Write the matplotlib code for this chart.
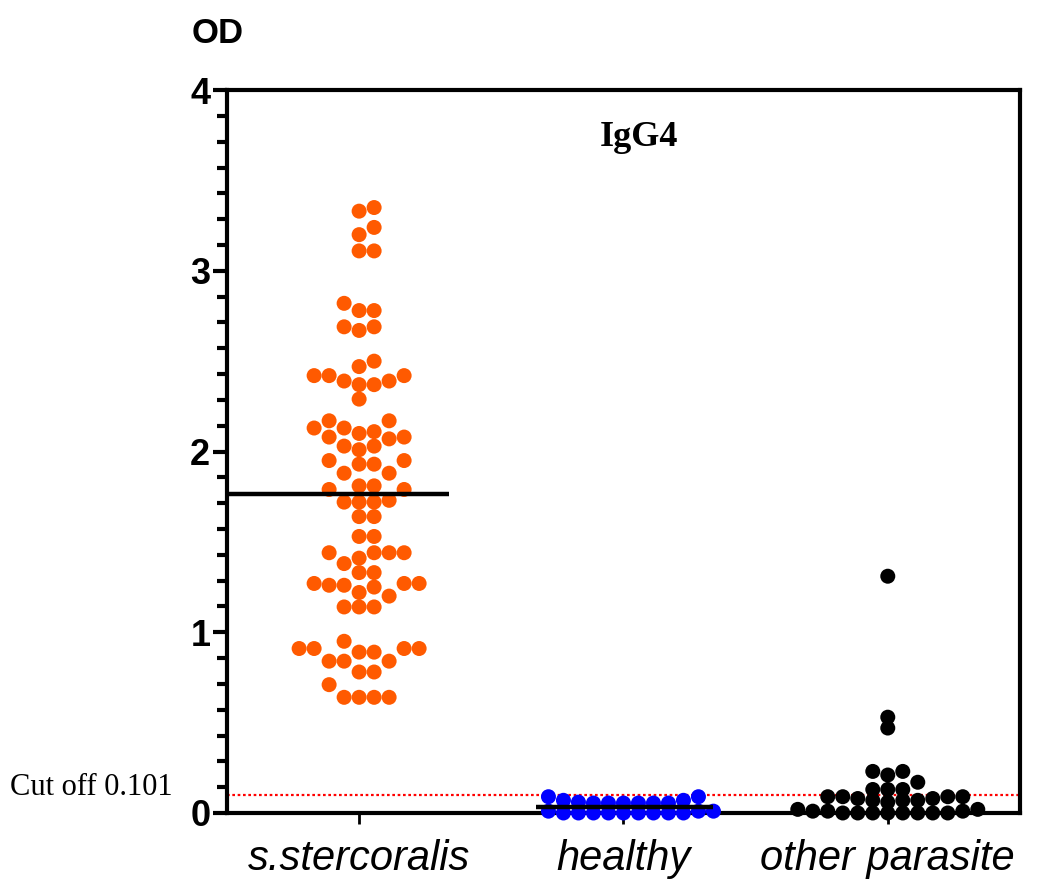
import numpy as np
import matplotlib
matplotlib.use("Agg")
import matplotlib.pyplot as plt
import matplotlib.transforms as mtransforms
from matplotlib.ticker import MultipleLocator, AutoMinorLocator

# ---- data -------------------------------------------------------------
groups = ["s.stercoralis", "healthy", "other parasite"]
group_colors = ["#FF5A00", "#0000FF", "#000000"]

strongyloides_od = [
    3.35, 3.33, 3.24, 3.20, 3.11, 3.11,
    2.82, 2.78, 2.78, 2.69, 2.67, 2.69,
    2.50, 2.47, 2.42, 2.42, 2.42, 2.39, 2.39, 2.37, 2.37, 2.29,
    2.17, 2.17, 2.13, 2.13, 2.11, 2.10, 2.08, 2.08, 2.07,
    2.03, 2.03, 2.01, 1.95, 1.95, 1.93, 1.93, 1.88, 1.88,
    1.81, 1.81, 1.79, 1.79, 1.73, 1.72, 1.72, 1.72, 1.64, 1.64,
    1.53, 1.53, 1.44, 1.44, 1.44, 1.44, 1.41, 1.38, 1.33, 1.33,
    1.27, 1.27, 1.27, 1.26, 1.26, 1.25, 1.22, 1.20, 1.14, 1.14, 1.14,
    0.95, 0.91, 0.91, 0.91, 0.91, 0.89, 0.89, 0.84, 0.84, 0.84,
    0.78, 0.78, 0.71, 0.64, 0.64, 0.64, 0.64,
]
healthy_od = [
    0.00, 0.00, 0.00, 0.01, 0.00, 0.01, 0.00, 0.00, 0.01, 0.00, 0.00, 0.00,
    0.07, 0.055, 0.055, 0.055, 0.09, 0.06, 0.07, 0.09, 0.055, 0.055, 0.055,
]
other_parasite_od = [
    1.31, 0.53, 0.47, 0.23, 0.23, 0.21, 0.17, 0.13, 0.13, 0.13,
    0.09, 0.09, 0.09, 0.09, 0.08, 0.08, 0.07, 0.07, 0.07, 0.06,
    0.02, 0.02, 0.01, 0.01, 0.01, 0.00, 0.00, 0.00, 0.00, 0.00,
    0.00, 0.00, 0.00,
]

CUTOFF = 0.101
panel_title = "IgG4"
y_title = "OD"

# ---- figure -----------------------------------------------------------
fig = plt.figure(figsize=(10.43, 8.83), dpi=100)
ax = fig.add_axes([0.2176, 0.0793, 0.7603, 0.8187])
ax.set_xlim(0.5, 3.5)
ax.set_ylim(0, 4)

SANS = ["Liberation Sans", "DejaVu Sans"]
SERIF = ["Liberation Serif", "DejaVu Serif"]

MARKER_PX = 15.0
# vertical spacing (in marker diameters) two dots need to share a column
column_gap = [0.9, 0.6, 0.6]


def column_swarm(values, centre, gap_frac):
    """Place each dot in the nearest column that has no close neighbour."""
    fig.canvas.draw()
    bbox = ax.get_window_extent()
    px_per_x = bbox.width / (ax.get_xlim()[1] - ax.get_xlim()[0])
    px_per_y = bbox.height / (ax.get_ylim()[1] - ax.get_ylim()[0])
    step = MARKER_PX / px_per_x
    min_gap = gap_frac * MARKER_PX / px_per_y
    order = np.argsort(values, kind="stable")
    tries = [0]
    for n in range(1, 40):
        tries += [n, -n]
    cols = {}
    xs = np.zeros(len(values))
    for i in order:
        v = values[i]
        for k in tries:
            if all(abs(v - u) >= min_gap for u in cols.get(k, [])):
                break
        cols.setdefault(k, []).append(v)
        xs[i] = centre + k * step
    return xs


datasets = [strongyloides_od, healthy_od, other_parasite_od]
for pos, (vals, col, gap) in enumerate(zip(datasets, group_colors, column_gap), start=1):
    vals = np.asarray(vals, dtype=float)
    xs = column_swarm(vals, pos, gap)
    ax.scatter(xs, vals, s=(MARKER_PX * 0.72) ** 2, color=col,
               edgecolors="none", zorder=3, clip_on=False)

# group mean bars
ax.hlines(np.mean(strongyloides_od), 0.5, 1.34, color="black", lw=3.2, zorder=4)
ax.hlines(np.mean(healthy_od), 2 - 0.33, 2 + 0.34, color="black", lw=3.2, zorder=4)

# cut-off line and its label
ax.axhline(CUTOFF, color="red", ls=(0, (1.2, 1.2)), lw=1.6, zorder=2)
blend = mtransforms.blended_transform_factory(ax.transAxes, ax.transData)
ax.text(-0.274, CUTOFF, f"Cut off {CUTOFF}", transform=blend, ha="left",
        va="baseline", fontsize=22, family=SERIF, color="black")

ax.text(0.52, 3.74, panel_title, ha="center", va="center", fontsize=26,
        fontweight="bold", family=SERIF, transform=blend)
fig.text(0.184, 0.962, y_title, ha="left", va="center", fontsize=25,
         fontweight="bold", family=SANS)

# axes styling
for side in ["left", "right", "top", "bottom"]:
    ax.spines[side].set_linewidth(3.0)
ax.set_xticks([1, 2, 3])
ax.set_xticklabels(groups, fontsize=30, style="italic", family=SANS)
ax.tick_params(axis="x", direction="out", length=8, width=2, pad=11)
ax.yaxis.set_major_locator(MultipleLocator(1))
ax.yaxis.set_minor_locator(AutoMinorLocator(7))
ax.tick_params(axis="y", which="major", direction="out", length=10, width=3,
               pad=2, labelsize=26)
ax.tick_params(axis="y", which="minor", direction="out", length=7, width=3)
for lab in ax.get_yticklabels():
    lab.set_fontweight("bold")
    lab.set_family(SANS)

fig.savefig("out.png", dpi=100, facecolor="white")
